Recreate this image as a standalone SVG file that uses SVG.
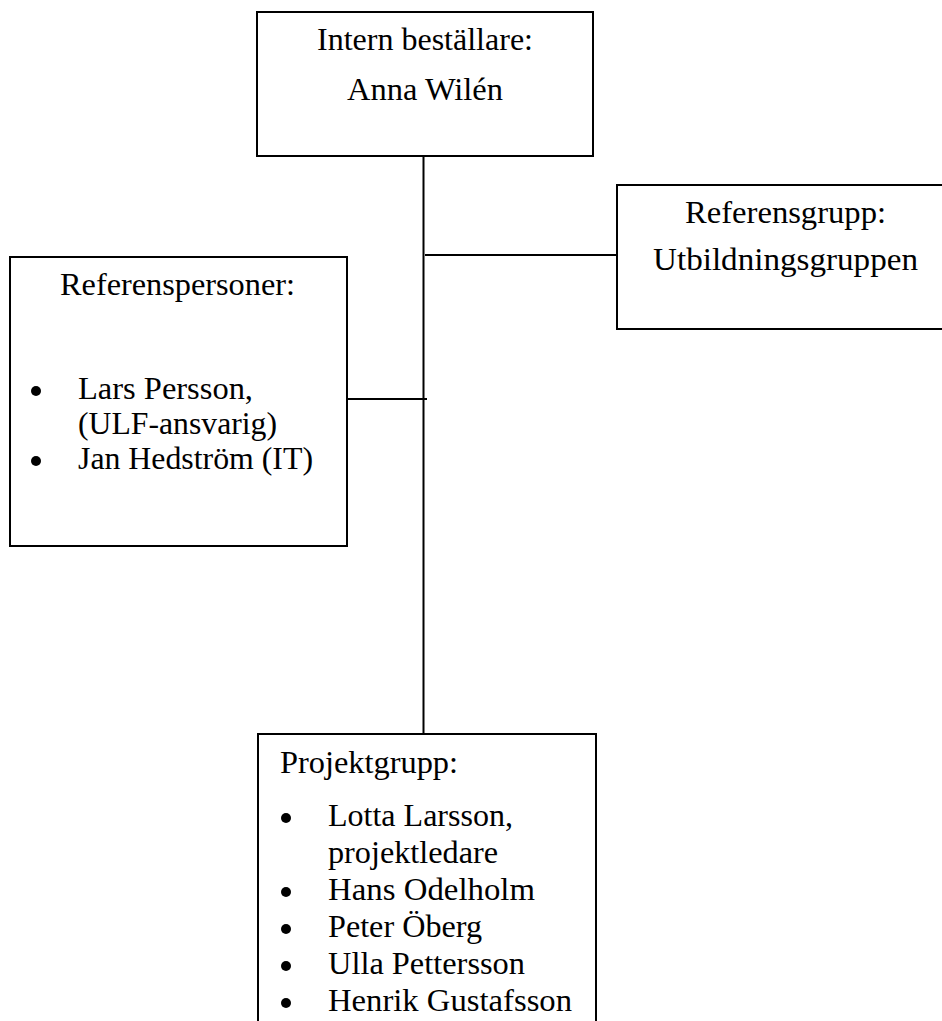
<svg xmlns="http://www.w3.org/2000/svg" width="942" height="1021" viewBox="0 0 942 1021">
<style>
.box{fill:#fff;stroke:#000;stroke-width:2}
.ln{stroke:#000;stroke-width:2;fill:none}
text{font-family:"Liberation Serif","DejaVu Serif",serif;font-size:31px;fill:#000}
.b{fill:#000}
</style>
<rect width="942" height="1021" fill="#fff"/>
<g id="connectors">
<line class="ln" x1="423.5" y1="156" x2="423.5" y2="734"/>
<line class="ln" x1="425" y1="255" x2="617" y2="255"/>
<line class="ln" x1="347" y1="399" x2="427" y2="399"/>
</g>
<g id="intern">
<rect class="box" x="257" y="12" width="336" height="144"/>
<text x="317" y="50" textLength="216" lengthAdjust="spacingAndGlyphs">Intern beställare:</text>
<text x="347" y="100" textLength="156" lengthAdjust="spacingAndGlyphs">Anna Wilén</text>
</g>
<g id="referensgrupp">
<rect class="box" x="617" y="185" width="340" height="144"/>
<text x="685" y="223" textLength="201" lengthAdjust="spacingAndGlyphs">Referensgrupp:</text>
<text x="653" y="270" textLength="265" lengthAdjust="spacingAndGlyphs">Utbildningsgruppen</text>
</g>
<g id="referenspersoner">
<rect class="box" x="10" y="257" width="337" height="289"/>
<text x="60" y="295" textLength="235" lengthAdjust="spacingAndGlyphs">Referenspersoner:</text>
<circle class="b" cx="36" cy="391" r="5"/>
<text x="78" y="399" textLength="175" lengthAdjust="spacingAndGlyphs">Lars Persson,</text>
<text x="78" y="434" textLength="199" lengthAdjust="spacingAndGlyphs">(ULF-ansvarig)</text>
<circle class="b" cx="36" cy="461" r="5"/>
<text x="78" y="469" textLength="235" lengthAdjust="spacingAndGlyphs">Jan Hedström (IT)</text>
</g>
<g id="projektgrupp">
<rect class="box" x="258" y="734" width="338" height="300"/>
<text x="280" y="773" textLength="178" lengthAdjust="spacingAndGlyphs">Projektgrupp:</text>
<circle class="b" cx="286" cy="818" r="5"/>
<text x="328" y="826" textLength="185" lengthAdjust="spacingAndGlyphs">Lotta Larsson,</text>
<text x="328" y="863" textLength="170" lengthAdjust="spacingAndGlyphs">projektledare</text>
<circle class="b" cx="286" cy="892" r="5"/>
<text x="328" y="900" textLength="207" lengthAdjust="spacingAndGlyphs">Hans Odelholm</text>
<circle class="b" cx="286" cy="929" r="5"/>
<text x="328" y="937" textLength="154" lengthAdjust="spacingAndGlyphs">Peter Öberg</text>
<circle class="b" cx="286" cy="966" r="5"/>
<text x="328" y="974" textLength="197" lengthAdjust="spacingAndGlyphs">Ulla Pettersson</text>
<circle class="b" cx="286" cy="1003" r="5"/>
<text x="328" y="1011" textLength="244" lengthAdjust="spacingAndGlyphs">Henrik Gustafsson</text>
</g>
</svg>
